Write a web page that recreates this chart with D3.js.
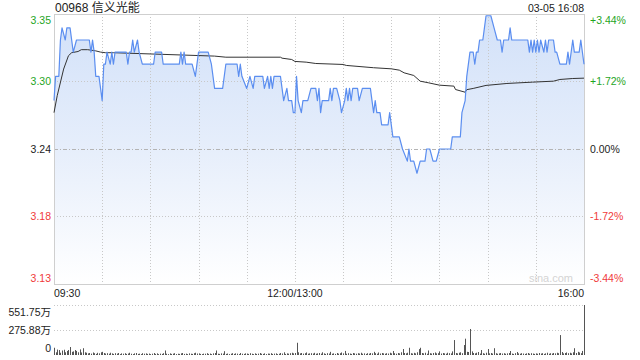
<!DOCTYPE html>
<html>
<head>
<meta charset="utf-8">
<script src="https://cdn.jsdelivr.net/npm/d3@7"></script>
<style>
  body { margin: 0; background: #fff; }
  text { font-family: "Liberation Sans", Arial, "Noto Sans CJK SC", sans-serif; }
</style>
</head>
<body>
<div id="chart"></div>
<script>
const stockTitle = '00968 信义光能';
const stamp = '03-05 16:08';
const preClose = 3.24;
const pctSteps = [-0.0344, -0.0172, 0, 0.0172, 0.0344];
const timeTicks = [0, 150, 330];
const timeLabels = ['09:30', '12:00/13:00', '16:00'];
const volMax = 551.75;

// price line, vertices (minute from open, price)
const priceMinutes = [0, 1, 3, 4, 5, 7, 8, 10, 11, 12, 14, 22, 23, 24, 25, 26, 28, 29, 30, 31,
  32, 33, 35, 36, 37, 38, 45, 46, 47, 48, 49, 50, 52, 53, 55, 62, 63, 67, 68, 78,
  79, 80, 81, 82, 86, 88, 90, 96, 98, 100, 105, 107, 114, 115, 116, 117, 120, 122, 124, 125,
  130, 131, 133, 134, 135, 136, 137, 141, 142, 143, 145, 146, 148, 149, 150, 151, 152, 154, 155, 158,
  160, 163, 164, 165, 166, 167, 171, 172, 173, 174, 176, 178, 179, 181, 182, 183, 184, 185, 186, 189,
  190, 192, 197, 198, 199, 200, 201, 203, 204, 208, 209, 211, 215, 217, 220, 221, 222, 224, 226, 228,
  231, 232, 234, 236, 238, 240, 247, 248, 253, 254, 256, 257, 259, 261, 262, 263, 264, 265, 267, 268,
  269, 272, 274, 276, 278, 279, 280, 283, 284, 285, 295, 296, 297, 298, 299, 300, 301, 302, 303, 305,
  306, 307, 308, 311, 312, 313, 315, 319, 320, 321, 323, 324, 327, 328, 330];
const prices = [3.28, 3.30, 3.30, 3.33, 3.34, 3.33, 3.34, 3.34, 3.33, 3.32, 3.33, 3.33, 3.32, 3.33, 3.32, 3.30, 3.30, 3.29, 3.28, 3.31,
  3.31, 3.32, 3.31, 3.32, 3.31, 3.32, 3.32, 3.31, 3.32, 3.32, 3.33, 3.32, 3.33, 3.32, 3.31, 3.31, 3.32, 3.32, 3.31, 3.31,
  3.32, 3.31, 3.32, 3.31, 3.31, 3.30, 3.32, 3.32, 3.31, 3.29, 3.29, 3.31, 3.31, 3.30, 3.31, 3.30, 3.29, 3.30, 3.29, 3.30,
  3.30, 3.29, 3.30, 3.29, 3.30, 3.29, 3.30, 3.30, 3.29, 3.28, 3.29, 3.28, 3.28, 3.27, 3.27, 3.30, 3.28, 3.27, 3.28, 3.28,
  3.29, 3.29, 3.28, 3.29, 3.27, 3.28, 3.28, 3.29, 3.28, 3.29, 3.29, 3.28, 3.27, 3.28, 3.29, 3.28, 3.29, 3.28, 3.29, 3.29,
  3.28, 3.29, 3.29, 3.28, 3.27, 3.28, 3.27, 3.27, 3.26, 3.26, 3.27, 3.25, 3.25, 3.24, 3.23, 3.24, 3.23, 3.23, 3.22, 3.23,
  3.23, 3.24, 3.24, 3.23, 3.23, 3.24, 3.24, 3.25, 3.25, 3.27, 3.28, 3.30, 3.32, 3.32, 3.31, 3.32, 3.32, 3.33, 3.33, 3.34,
  3.35, 3.35, 3.34, 3.33, 3.33, 3.32, 3.33, 3.33, 3.34, 3.33, 3.33, 3.32, 3.33, 3.32, 3.33, 3.32, 3.33, 3.32, 3.33, 3.32,
  3.33, 3.32, 3.33, 3.33, 3.32, 3.32, 3.31, 3.31, 3.32, 3.31, 3.33, 3.32, 3.32, 3.33, 3.31];

// average price line
const avgMinutes = [0, 2, 6, 9, 11, 15, 17, 21, 26, 29, 32, 37, 100, 107, 122, 141, 142, 148, 150, 157,
  163, 180, 182, 199, 210, 215, 218, 224, 228, 233, 240, 249, 250, 256, 257, 261, 269, 282, 298, 311,
  315, 323, 330];
const avgPrices = [3.270, 3.284, 3.306, 3.317, 3.3195, 3.3205, 3.322, 3.322, 3.321, 3.320, 3.3195, 3.3195, 3.3167, 3.3158, 3.3158, 3.3158, 3.315, 3.3139, 3.3123, 3.3117,
  3.3106, 3.3098, 3.309, 3.3071, 3.3062, 3.3051, 3.3029, 3.3007, 3.296, 3.2947, 3.2927, 3.2919, 3.2891, 3.2869, 3.289, 3.290, 3.2925, 3.2941, 3.2952, 3.2960,
  3.2974, 3.2982, 3.2985];

// volume per minute, in 万 shares
const volumes = [
  80, 30, 60, 55, 25, 50, 58, 30, 45, 55,
  88, 35, 40, 55, 45, 30, 62, 28, 75, 30,
  25, 18, 22, 15, 28, 20, 12, 24, 18, 30,
  35, 22, 16, 20, 14, 25, 18, 12, 20, 15,
  22, 10, 18, 14, 20, 12, 16, 25, 14, 10,
  18, 22, 12, 15, 10, 20, 14, 18, 12, 16,
  10, 14, 22, 12, 18, 10, 15, 12, 20, 50,
  14, 10, 18, 12, 15, 20, 10, 14, 12, 18,
  22, 12, 15, 10, 18, 14, 12, 20, 25, 16,
  18, 12, 10, 15, 14, 20, 12, 16, 10, 18,
  22, 50, 14, 12, 18, 15, 42, 12, 16, 10,
  14, 20, 12, 18, 15, 10, 22, 14, 12, 18,
  16, 12, 20, 14, 10, 18, 12, 15, 22, 14,
  12, 18, 10, 16, 14, 20, 12, 15, 18, 10,
  14, 22, 16, 30, 12, 18, 15, 20, 25, 18,
  22, 135, 30, 18, 22, 15, 20, 28, 14, 18,
  20, 16, 24, 14, 18, 22, 15, 30, 18, 12,
  20, 16, 35, 14, 18, 12, 22, 15, 20, 28,
  18, 45, 14, 20, 16, 12, 22, 18, 14, 20,
  16, 25, 14, 18, 12, 20, 15, 22, 18, 35,
  20, 14, 28, 16, 22, 18, 14, 20, 16, 25,
  18, 44, 20, 14, 22, 18, 30, 66, 22, 18,
  25, 80, 20, 16, 24, 18, 30, 65, 80, 22,
  18, 25, 14, 50, 20, 16, 22, 28, 18, 20,
  40, 16, 22, 18, 14, 25, 20, 18, 40, 165,
  22, 18, 25, 30, 20, 110, 180, 35, 33, 287,
  40, 22, 18, 25, 33, 16, 55, 20, 14, 25,
  66, 18, 22, 16, 75, 20, 14, 18, 22, 16,
  20, 14, 18, 22, 44, 16, 12, 20, 33, 18,
  14, 20, 16, 12, 18, 22, 14, 20, 16, 12,
  18, 14, 22, 16, 20, 12, 18, 25, 14, 20,
  16, 22, 18, 25, 20, 220, 33, 18, 22, 28,
  20, 25, 18, 30, 75, 22, 35, 28, 20, 45,
  551.75
];

const width = 640, height = 360;
const plotLeft = 54, plotRight = 584, plotTop = 14, plotBottom = 284;
const volTop = 305, volBottom = 355;
const green = '#1fa51f', red = '#f03a3a', dark = '#222';

const svg = d3.select('#chart').append('svg')
  .attr('width', width).attr('height', height);

const x = d3.scaleLinear().domain([0, 330]).range([plotLeft, plotRight]);
const y = d3.scaleLinear()
  .domain([preClose * (1 + pctSteps[0]), preClose * (1 + pctSteps[4])])
  .range([plotBottom, plotTop]);
const yVol = d3.scaleLinear().domain([0, volMax]).range([volBottom, volTop]);

const defs = svg.append('defs');
const grad = defs.append('linearGradient').attr('id', 'fillGrad')
  .attr('gradientUnits', 'userSpaceOnUse')
  .attr('x1', 0).attr('y1', plotTop).attr('x2', 0).attr('y2', plotBottom);
grad.append('stop').attr('offset', 0).attr('stop-color', '#d2e1f9');
grad.append('stop').attr('offset', 0.5).attr('stop-color', '#e6eefb');
grad.append('stop').attr('offset', 1).attr('stop-color', '#ffffff');

const pricePts = priceMinutes.map((m, i) => [m, prices[i]]);
const avgPts = avgMinutes.map((m, i) => [m, avgPrices[i]]);

// area under the price line
svg.append('path')
  .datum(pricePts)
  .attr('fill', 'url(#fillGrad)')
  .attr('d', d3.area().x(d => x(d[0])).y0(plotBottom).y1(d => y(d[1])));

// grid
const vGrid = d3.range(30, 330, 30);
svg.append('g').selectAll('line').data(vGrid).join('line')
  .attr('x1', d => Math.round(x(d)) + 0.5).attr('x2', d => Math.round(x(d)) + 0.5)
  .attr('y1', plotTop).attr('y2', plotBottom)
  .attr('stroke', '#c8c8c8').attr('stroke-dasharray', '1,2');

svg.append('g').selectAll('line').data(pctSteps.slice(1, 4)).join('line')
  .attr('x1', plotLeft).attr('x2', plotRight)
  .attr('y1', d => Math.round(y(preClose * (1 + d))) + 0.5)
  .attr('y2', d => Math.round(y(preClose * (1 + d))) + 0.5)
  .attr('stroke', d => d === 0 ? '#b4b4b4' : '#c8c8c8')
  .attr('stroke-dasharray', d => d === 0 ? '4,2,1,2' : '1,2');

svg.append('rect')
  .attr('x', plotLeft + 0.5).attr('y', plotTop + 0.5)
  .attr('width', plotRight - plotLeft).attr('height', plotBottom - plotTop)
  .attr('fill', 'none').attr('stroke', '#cfcfcf');

svg.append('text')
  .attr('x', 573).attr('y', 282)
  .attr('text-anchor', 'end').attr('font-size', 11)
  .attr('fill', '#d4d4d4').text('sina.com');

// lines
svg.append('path')
  .datum(avgPts)
  .attr('fill', 'none').attr('stroke', '#333').attr('stroke-width', 1)
  .attr('d', d3.line().x(d => x(d[0])).y(d => y(d[1])));

svg.append('path')
  .datum(pricePts)
  .attr('fill', 'none').attr('stroke', '#5b8ef0').attr('stroke-width', 1.2)
  .attr('stroke-linejoin', 'round')
  .attr('d', d3.line().x(d => x(d[0])).y(d => y(d[1])));

// price labels
const clampY = v => Math.max(plotTop + 6, Math.min(plotBottom - 6, y(v)));
const tone = p => p > 0 ? green : (p < 0 ? red : dark);

svg.append('g').selectAll('text').data(pctSteps).join('text')
  .attr('x', 51).attr('y', d => clampY(preClose * (1 + d)))
  .attr('dy', '0.35em').attr('text-anchor', 'end').attr('font-size', 10.5)
  .attr('fill', d => tone(d))
  .text(d => (preClose * (1 + d)).toFixed(2));

svg.append('g').selectAll('text').data(pctSteps).join('text')
  .attr('x', 590).attr('y', d => clampY(preClose * (1 + d)))
  .attr('dy', '0.35em').attr('font-size', 10.5)
  .attr('fill', d => tone(d))
  .text(d => (d > 0 ? '+' : '') + (d * 100).toFixed(2) + '%');

// header
svg.append('text').attr('x', 55).attr('y', 12)
  .attr('font-size', 12).attr('fill', dark).text(stockTitle);
svg.append('text').attr('x', 584).attr('y', 12)
  .attr('text-anchor', 'end').attr('font-size', 10.5).attr('fill', dark).text(stamp);

// time labels
svg.append('g').selectAll('text').data(timeTicks).join('text')
  .attr('x', d => x(d)).attr('y', 297)
  .attr('text-anchor', (d, i) => i === 0 ? 'start' : (i === timeTicks.length - 1 ? 'end' : 'middle'))
  .attr('font-size', 10.5).attr('fill', dark)
  .text((d, i) => timeLabels[i]);

// volume panel
const volTicks = [volMax, volMax / 2];
svg.append('g').selectAll('line').data(volTicks).join('line')
  .attr('x1', plotLeft).attr('x2', plotRight)
  .attr('y1', d => Math.round(yVol(d)) + 0.5).attr('y2', d => Math.round(yVol(d)) + 0.5)
  .attr('stroke', '#c8c8c8').attr('stroke-dasharray', '1,2');

svg.append('g').selectAll('text').data([volMax, volMax / 2, 0]).join('text')
  .attr('x', 51)
  .attr('y', d => Math.max(volTop + 7, Math.min(volBottom - 7, yVol(d))))
  .attr('dy', '0.35em').attr('text-anchor', 'end').attr('font-size', 10.5).attr('fill', dark)
  .text(d => d === 0 ? '0' : d.toFixed(2) + '万');

svg.append('g').selectAll('line').data(volumes).join('line')
  .attr('x1', (d, i) => Math.round(x(i)) + 0.5).attr('x2', (d, i) => Math.round(x(i)) + 0.5)
  .attr('y1', volBottom).attr('y2', d => yVol(d))
  .attr('stroke', '#555').attr('stroke-width', 1);
</script>
</body>
</html>
